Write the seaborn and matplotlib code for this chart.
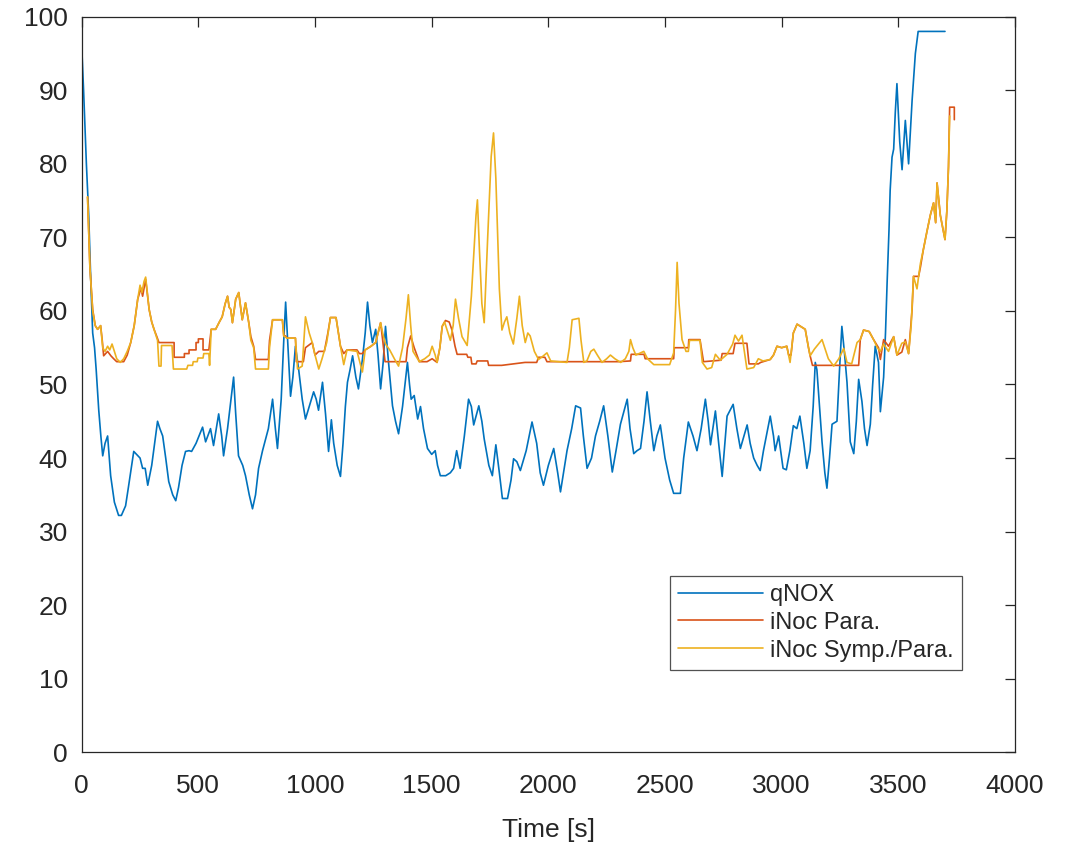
import matplotlib
matplotlib.use("Agg")
import matplotlib.pyplot as plt
import seaborn as sns
import pandas as pd

# ---------------- data ----------------
qnox_t = [0, 8, 20, 30, 40, 47, 55, 62, 73, 82, 90, 100, 111, 118, 124, 140, 158, 170, 188, 200,
          223, 235, 250, 261, 272, 283, 300, 325, 335, 347, 360, 373, 390, 403, 415, 430, 445, 460,
          471, 490, 518, 531, 552, 565, 587, 600, 608, 625, 651, 660, 672, 690, 702, 718, 732, 745,
          758, 775, 800, 818, 830, 839, 855, 866, 874, 884, 895, 905, 916, 930, 945, 959, 975, 994,
          1005, 1015, 1032, 1045, 1058, 1070, 1080, 1095, 1109, 1120, 1130, 1139, 1150, 1161, 1175,
          1186, 1203, 1215, 1225, 1235, 1246, 1260, 1270, 1281, 1292, 1302, 1315, 1332, 1345, 1358,
          1375, 1396, 1405, 1412, 1425, 1440, 1452, 1465, 1482, 1500, 1515, 1525, 1537, 1560, 1580,
          1594, 1607, 1622, 1640, 1658, 1670, 1680, 1702, 1715, 1725, 1745, 1760, 1775, 1790, 1803,
          1825, 1840, 1851, 1865, 1880, 1905, 1930, 1950, 1965, 1979, 2000, 2023, 2040, 2052, 2065,
          2080, 2100, 2117, 2138, 2150, 2166, 2185, 2202, 2220, 2237, 2255, 2274, 2290, 2309, 2338,
          2350, 2366, 2380, 2395, 2410, 2423, 2437, 2452, 2465, 2480, 2500, 2520, 2537, 2566, 2580,
          2600, 2620, 2637, 2655, 2673, 2685, 2695, 2716, 2730, 2745, 2766, 2792, 2808, 2823, 2852,
          2865, 2880, 2895, 2908, 2922, 2951, 2965, 2972, 2987, 3006, 3020, 3035, 3050, 3065, 3078,
          3095, 3108, 3122, 3135, 3144, 3151, 3162, 3173, 3185, 3194, 3205, 3216, 3237, 3248, 3258,
          3270, 3280, 3294, 3309, 3320, 3330, 3344, 3355, 3366, 3380, 3390, 3401, 3415, 3423, 3437,
          3445, 3452, 3460, 3465, 3473, 3480, 3487, 3494, 3500, 3506, 3516, 3530, 3544, 3559, 3573,
          3585, 3700]
qnox_v = [96, 90, 80, 73, 63, 57, 55, 52, 46.5, 43, 40.3, 42, 43, 40, 37.6, 34, 32.2, 32.2, 33.5, 36,
          40.9, 40.5, 40, 38.6, 38.6, 36.3, 39, 45, 44, 43, 40, 36.8, 35, 34.2, 36, 39, 40.9, 41,
          40.9, 42, 44.2, 42.2, 44, 41.7, 46, 43, 40.3, 44, 51, 46, 40.3, 39, 37.6, 35, 33.1, 35,
          38.6, 41, 44, 48, 44, 41.3, 48, 56, 61.2, 55, 48.4, 51, 55.2, 52, 48, 45.3, 47, 49,
          48, 46.5, 50.3, 46, 40.9, 45.2, 42, 39, 37.5, 42, 47, 50.3, 52, 53.9, 51,
          49.4, 53.4, 57, 61.2, 58, 55.7, 57.5, 54, 49.4, 53, 57.9, 53, 47.1, 45, 43.3,
          47, 53, 50, 48, 48.5, 45.3, 47, 44, 41.3, 40.5, 41, 39, 37.6, 37.6, 38,
          38.6, 41, 38.6, 43, 48, 47, 44.5, 47.1, 45, 42.6, 39, 37.6, 41.8, 38, 34.5,
          34.5, 37, 39.9, 39.5, 38.3, 41, 44.9, 42, 38, 36.3, 39, 41.3, 38, 35.4, 38,
          41, 44, 47.1, 46.8, 43, 38.6, 40, 43, 45, 47.1, 43, 38.1, 41, 44.6, 48,
          44, 40.6, 41, 41.3, 45, 49, 45, 41, 43, 44.5, 40, 37, 35.2, 35.2, 40,
          44.9, 43, 41, 44, 48, 45, 41.8, 46.4, 42, 37.5, 45.7, 47.3, 44, 41.3, 44.5,
          42, 40, 39, 38.3, 41, 45.7, 43, 41, 43, 38.6, 38.4, 41, 44.4, 44, 45.7,
          42, 38.6, 41, 47, 53, 52, 47, 42.2, 38, 35.9, 40, 44.6, 45, 52, 57.9,
          54, 50.3, 42.2, 40.6, 45, 50.7, 47.7, 44, 41.7, 44.6, 50, 55.2, 53, 46.3, 51,
          57, 63.9, 71, 76.4, 80.9, 82, 87, 90.9, 87, 83, 79.2, 85.9, 80, 88.6, 95,
          98, 98]

para_t = [25, 35, 47, 58, 68, 81, 88, 94, 111, 125, 137, 150, 180, 195, 210, 225, 240, 254, 261, 274,
          289, 300, 310, 322, 331, 396, 396, 440, 440, 460, 460, 490, 490, 500, 500, 520, 520, 545,
          555, 574, 590, 602, 615, 625, 632, 639, 646, 660, 673, 688, 702, 716, 725, 737, 745, 800,
          805, 818, 860, 866, 874, 880, 916, 920, 950, 959, 988, 1000, 1016, 1040, 1055, 1066, 1090,
          1100, 1109, 1123, 1137, 1180, 1190, 1203, 1215, 1240, 1260, 1270, 1281, 1290, 1300, 1390,
          1396, 1410, 1425, 1447, 1480, 1502, 1523, 1535, 1545, 1559, 1575, 1587, 1600, 1609, 1650,
          1655, 1668, 1672, 1690, 1695, 1740, 1744, 1800, 1850, 1900, 1950, 1958, 1985, 1994, 2300,
          2352, 2355, 2410, 2415, 2537, 2540, 2600, 2602, 2650, 2665, 2740, 2745, 2792, 2800, 2851,
          2860, 2900, 2910, 2951, 2965, 2980, 3000, 3022, 3030, 3040, 3050, 3066, 3101, 3115, 3122,
          3132, 3330, 3337, 3351, 3375, 3394, 3415, 3423, 3437, 3458, 3480, 3494, 3515, 3530, 3544,
          3559, 3565, 3587, 3595, 3607, 3622, 3637, 3651, 3660, 3666, 3680, 3700, 3708, 3715, 3720,
          3740, 3740]
para_v = [75.5, 66, 60.2, 58, 57.5, 58, 56, 53.9, 54.5, 53.9, 53.5, 53.1, 53.1, 54, 55.7, 58, 61.6, 63.1, 62, 64.3,
          60.2, 58.5, 57.5, 56.5, 55.7, 55.7, 53.7, 53.7, 54.2, 54.2, 54.7, 54.7, 55.7, 55.7, 56.2, 56.2, 54.7, 54.7,
          57.5, 57.5, 58.5, 59.2, 61, 62, 60.5, 60.2, 58.4, 61.6, 62.5, 58.8, 61.1, 58.4, 56.5, 55.2, 53.4, 53.4,
          56, 58.8, 58.8, 56.6, 56.6, 56.3, 56.3, 53.1, 53.1, 55, 55.7, 54, 54.5, 54.5, 57, 59.1, 59.1,
          57, 55.2, 54.2, 54.7, 54.7, 54.2, 54.2, 54.7, 55.2, 55.7, 57, 58.4, 56, 53.1, 53.1,
          55, 56.6, 55, 53.1, 53.1, 53.5, 53, 55, 57.9, 58.7, 58.5, 57.4, 55.2, 54.1, 54.1,
          53.7, 53.7, 52.8, 52.8, 53.2, 53.2, 52.6, 52.6, 52.8, 53, 53, 53.7, 53.7, 53.1, 53.1,
          53.2, 54.1, 54.1, 53.5, 53.5, 55, 55, 56.1, 56.1, 53.1, 53.3, 54.2, 54.2, 55.6, 55.6,
          52.8, 52.8, 53, 53.4, 54, 55.2, 55, 55.2, 54, 54, 57, 58.2, 57.5, 55, 53.9,
          52.6, 52.6, 56.1, 57.4, 57.2, 56.1, 55, 53.4, 56.1, 55.2, 56.5, 54, 54.4, 56.1, 54.2,
          60.2, 64.7, 64.7, 66, 68.3, 70.7, 73, 74.7, 72, 77.4, 73, 69.7, 73.6, 79.6, 87.7,
          87.7, 86]

symp_t = [25, 35, 47, 58, 68, 81, 90, 100, 111, 120, 130, 140, 150, 165, 180, 195, 210, 225, 240, 250,
          258, 267, 274, 289, 300, 310, 325, 331, 340, 342, 387, 393, 450, 455, 475, 478, 495, 498,
          520, 523, 545, 548, 555, 574, 590, 602, 615, 625, 632, 639, 646, 660, 673, 688, 702, 716,
          725, 737, 745, 800, 805, 818, 860, 866, 880, 916, 925, 945, 959, 975, 988, 1000, 1016, 1030,
          1050, 1066, 1090, 1100, 1109, 1123, 1137, 1180, 1203, 1215, 1240, 1260, 1270, 1281, 1290,
          1302, 1320, 1340, 1358, 1375, 1390, 1400, 1410, 1420, 1447, 1470, 1490, 1502, 1515, 1523,
          1535, 1545, 1555, 1565, 1580, 1592, 1602, 1615, 1630, 1652, 1670, 1690, 1696, 1705, 1715,
          1725, 1740, 1755, 1765, 1775, 1790, 1801, 1812, 1822, 1835, 1850, 1865, 1876, 1888, 1901,
          1912, 1922, 1940, 1958, 1975, 1994, 2010, 2080, 2090, 2102, 2131, 2140, 2152, 2165, 2182,
          2195, 2210, 2230, 2250, 2266, 2285, 2310, 2330, 2345, 2352, 2362, 2375, 2395, 2409, 2425,
          2452, 2520, 2537, 2545, 2552, 2560, 2573, 2590, 2600, 2605, 2650, 2660, 2680, 2700, 2716,
          2737, 2766, 2790, 2800, 2815, 2830, 2851, 2880, 2900, 2920, 2951, 2965, 2980, 3000, 3022,
          3036, 3050, 3066, 3101, 3115, 3122, 3140, 3158, 3173, 3200, 3223, 3245, 3266, 3280, 3300,
          3323, 3337, 3351, 3375, 3394, 3410, 3423, 3437, 3458, 3480, 3494, 3515, 3530, 3544, 3555,
          3565, 3580, 3587, 3595, 3607, 3622, 3637, 3651, 3660, 3666, 3680, 3700, 3708, 3715, 3720]
symp_v = [75.5, 66, 60, 58, 57.5, 58, 55, 54.5, 55.2, 54.7, 55.5, 54.5, 53.5, 53, 53.5, 54.5, 55.7, 58, 61.6, 63.5,
          62.5, 64, 64.6, 60.2, 58.5, 57.5, 56, 52.5, 52.5, 55.3, 55.3, 52.1, 52.1, 52.6, 52.6, 53.1, 53.1, 53.6,
          53.6, 54.2, 54.2, 52.6, 57.5, 57.5, 58.5, 59.2, 61, 62, 60.5, 60.2, 58.4, 61.6, 62.5, 58.8, 61.1, 58.4,
          56, 55, 52.1, 52.1, 55, 58.8, 58.8, 56.6, 56.3, 56.3, 52.1, 52.5, 59.2, 57, 55.7, 54, 52.1, 53.5,
          55.7, 59.1, 59.1, 57, 55.2, 52.7, 54.7, 54.5, 51.7, 54.7, 55.2, 55.7, 57, 58.4, 57,
          55.5, 54.7, 53.5, 52.5, 55, 59, 62.2, 58, 54.5, 53.1, 53.5, 54, 55.2, 54, 53,
          55, 57.9, 58.5, 57.5, 56, 58, 61.6, 59, 56.5, 55.3, 62, 73, 75.1, 68, 61,
          58.4, 70, 81, 84.2, 78, 63, 57.4, 58.5, 59.2, 57, 55.5, 59, 62, 58, 55.7,
          57, 56.6, 54.5, 53.4, 53.8, 54.3, 53.2, 53, 55, 58.8, 59, 56, 53, 53.2, 54.5,
          54.8, 54, 53, 53.5, 54, 53.5, 53, 53.5, 54.5, 56.1, 55, 54, 54.3, 54.5, 53.5,
          52.7, 52.7, 54.3, 60, 66.6, 61, 56.1, 54.5, 54.5, 56, 56, 53, 52.1, 52.3, 54.1,
          53.3, 54.1, 55.5, 56.7, 55.9, 56.7, 52.1, 52.3, 53.5, 53.2, 53.4, 54, 55.2, 55, 55.2,
          53, 57, 58.2, 57.5, 55, 53.9, 54.8, 55.5, 56.1, 53.5, 52.5, 53.5, 54.9, 53, 52.8,
          55.7, 56.1, 57.4, 57.2, 56.1, 55, 54.5, 55.5, 54.5, 56.5, 54, 55.6, 55.8, 54.2, 58,
          64.7, 63, 64.7, 66.5, 68.3, 70.7, 73, 74.7, 72, 77.4, 73, 69.7, 73.6, 79.6, 86.5]

series_names = ["qNOX", "iNoc Para.", "iNoc Symp./Para."]
series_colors = ["#0072BD", "#D95319", "#EDB120"]
x_ticks = [0, 500, 1000, 1500, 2000, 2500, 3000, 3500, 4000]
y_ticks = [0, 10, 20, 30, 40, 50, 60, 70, 80, 90, 100]

# ---------------- build long table ----------------
frames = []
for name, t, v in zip(series_names, [qnox_t, para_t, symp_t], [qnox_v, para_v, symp_v]):
    d = pd.DataFrame({"t": t, "v": v})
    d["series"] = name
    frames.append(d)
df = pd.concat(frames, ignore_index=True)

# ---------------- figure ----------------
sns.set_style("white")
plt.rcParams["font.family"] = ["Liberation Sans", "DejaVu Sans"]

fig = plt.figure(figsize=(10.71, 8.44), dpi=100)
ax = fig.add_axes([0.0763, 0.1087, 0.8714, 0.8715])

sns.lineplot(data=df, x="t", y="v", hue="series", hue_order=series_names,
             palette=dict(zip(series_names, series_colors)), estimator=None,
             sort=False, linewidth=1.2, ax=ax)

ax.set_xlim(0, 4000)
ax.set_ylim(0, 100)
ax.set_xticks(x_ticks)
ax.set_yticks(y_ticks)
ax.set_xlabel("Time [s]", fontsize=19, color="#262626", labelpad=14)
ax.set_ylabel("")

for s in ax.spines.values():
    s.set_color("#262626")
    s.set_linewidth(0.9)
ax.tick_params(axis="both", which="both", direction="in", length=7, width=0.9,
               color="#262626", labelcolor="#262626", labelsize=19,
               top=True, right=True)
ax.tick_params(axis="x", pad=16)
ax.tick_params(axis="y", pad=10)

leg = ax.legend(loc="lower right", bbox_to_anchor=(0.943, 0.112), borderaxespad=0,
                fontsize=17, frameon=True, fancybox=False, handlelength=3.6,
                handletextpad=0.3, labelspacing=0.25, borderpad=0.35)
leg.get_frame().set_edgecolor("#262626")
leg.get_frame().set_linewidth(0.9)
for line in leg.get_lines():
    line.set_linewidth(1.2)

fig.savefig("out.png", dpi=100)
